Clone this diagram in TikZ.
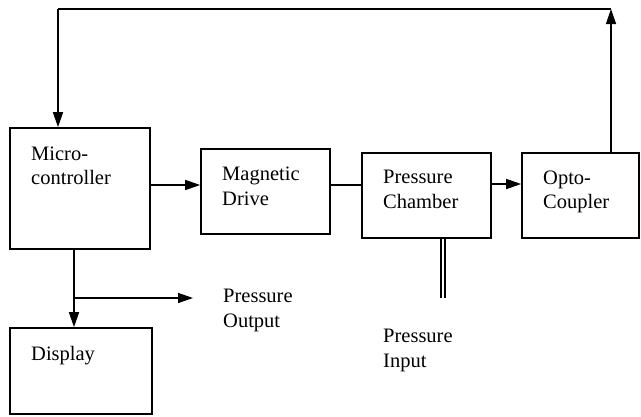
\documentclass[tikz,border=0pt]{standalone}
\usepackage{fontspec}
\setmainfont{Liberation Serif}
\usetikzlibrary{arrows.meta}
\begin{document}
\begin{tikzpicture}[x=1pt,y=-1pt,
  box/.style={draw,line width=1.6pt,inner sep=0pt,minimum width=#1},
  txt/.style={anchor=base west,inner sep=0pt,align=left,font=\fontsize{20.5}{24.5}\selectfont},
  ln/.style={line width=1.4pt},
  arr/.style={line width=1.4pt,-{Triangle[length=15pt,width=10pt]}}]
\useasboundingbox (0,0) rectangle (641,416);
% boxes
\node[box=140pt,minimum height=121pt] (mc) at (80,188.5) {};
\node[box=129pt,minimum height=85pt] (md) at (265.5,191.5) {};
\node[box=129pt,minimum height=85pt] (pc) at (426.5,195.5) {};
\node[box=117pt,minimum height=85pt] (oc) at (580.5,195.5) {};
\node[box=142pt,minimum height=86pt] (disp) at (81,371) {};
% texts (base anchor = last line baseline)
\node[txt] (tmc) at (31,184.5) {Micro-\\controller};
\node[txt] (tmd) at (222,205) {Magnetic\\Drive};
\node[txt] (tpc) at (383,208) {Pressure\\Chamber};
\node[txt] (toc) at (543,208.5) {Opto-\\Coupler};
\node[txt] (tdisp) at (31,360) {Display};
\node[txt] (tout) at (223,327) {Pressure\\Output};
\node[txt] (tin) at (383,367) {Pressure\\Input};
% coordinates
\coordinate (tr) at (611,9);
\coordinate (tl) at (58,9);
\coordinate (br) at (74,298);
\coordinate (outend) at (193,298);
\coordinate (inendA) at (441,298);
\coordinate (inendB) at (445,298);
% connectors
\draw[arr] (mc.east |- 0,185) -- (md.west |- 0,185);
\draw[ln] (md.east |- 0,185) -- (pc.west |- 0,185);
\draw[arr] (pc.east |- 0,184) -- (oc.west |- 0,184);
\draw[arr] (oc.north -| tr) -- (tr);
\draw[ln] (tr) -- (tl);
\draw[arr] (tl) -- (mc.north -| tl);
\draw[arr] (mc.south -| br) -- (disp.north -| br);
\draw[arr] (br) -- (outend);
\draw[line width=1.6pt] (pc.south -| inendA) -- (inendA);
\draw[line width=1.6pt] (pc.south -| inendB) -- (inendB);
\end{tikzpicture}
\end{document}
